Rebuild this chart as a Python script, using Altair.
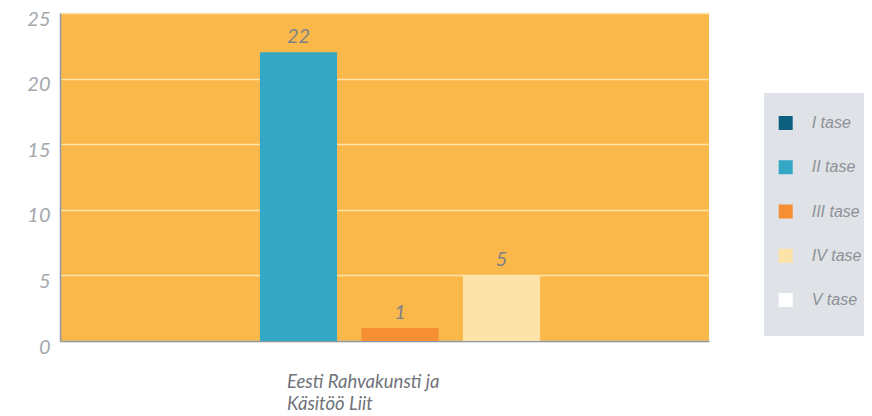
import altair as alt
import pandas as pd

category = "Eesti Rahvakunsti ja|Käsitöö Liit"
levels = ["I tase", "II tase", "III tase", "IV tase", "V tase"]
values = [0, 22, 1, 5, 0]
colors = ["#0d5f80", "#33a7c4", "#f68f33", "#fee3a8", "#ffffff"]
y_ticks = [0, 5, 10, 15, 20, 25]

df = pd.DataFrame({"category": [category] * len(levels), "tase": levels, "value": values})

base = alt.Chart(df).encode(
    x=alt.X(
        "category:N",
        scale=alt.Scale(paddingInner=0, paddingOuter=0.1394, align=0.6095),
        axis=alt.Axis(
            title=None, ticks=False, domain=True, domainColor="#8d98a6", domainWidth=1.5,
            labelExpr="split(datum.label, '|')", labelAlign="left", labelAngle=0, labelOffset=-113,
            labelBaseline="top", labelPadding=31, labelLineHeight=22,
            labelFont="Lato", labelFontStyle="italic", labelFontSize=18.5, labelColor="#6f737a",
        ),
    ),
    xOffset=alt.XOffset("tase:N", sort=levels, scale=alt.Scale(paddingInner=0.24, paddingOuter=0.12)),
    y=alt.Y(
        "value:Q",
        scale=alt.Scale(domain=[0, 25], nice=False),
        axis=alt.Axis(
            title=None, values=y_ticks, ticks=False, grid=True, gridColor="#fde3ad", gridWidth=1.5,
            domain=True, domainColor="#8d98a6", domainWidth=1.5,
            labelFont="Lato", labelFontStyle="italic", labelFontSize=20, labelColor="#a4a8ad",
            labelPadding=10, labelBaseline="alphabetic", labelOffset=12,
        ),
    ),
)

# grey panel behind the legend
legend_bg = alt.Chart(pd.DataFrame({"panel": [0]})).mark_rect(color="#dfe2e6").encode(
    x=alt.value(704), x2=alt.value(830), y=alt.value(80), y2=alt.value(323)
)

bars = base.mark_bar().encode(
    color=alt.Color(
        "tase:N", sort=levels, scale=alt.Scale(domain=levels, range=colors),
        legend=alt.Legend(
            title=None, orient="none", legendX=717.7, legendY=102, padding=0,
            symbolType="square", symbolSize=196, symbolStrokeWidth=0,
            labelFont="Liberation Sans", labelFontStyle="italic", labelFontSize=16,
            labelColor="#8d9197", rowPadding=28.25, labelOffset=18,
        ),
    )
)

labels = base.transform_filter("datum.value > 0").mark_text(
    baseline="alphabetic", dy=-9, font="Lato", fontStyle="italic", fontSize=20, color="#7d8187"
).encode(text="value:Q")

chart = (
    alt.layer(legend_bg, bars, labels)
    .properties(
        width=649, height=328,
        autosize=alt.AutoSizeParams(type="none"),
        padding={"left": 52, "top": 5, "right": 155, "bottom": 75},
    )
    .configure_view(fill="#fbb84a", stroke=None)
)

chart.save("out.html", embed_options={"renderer": "svg", "actions": False})
